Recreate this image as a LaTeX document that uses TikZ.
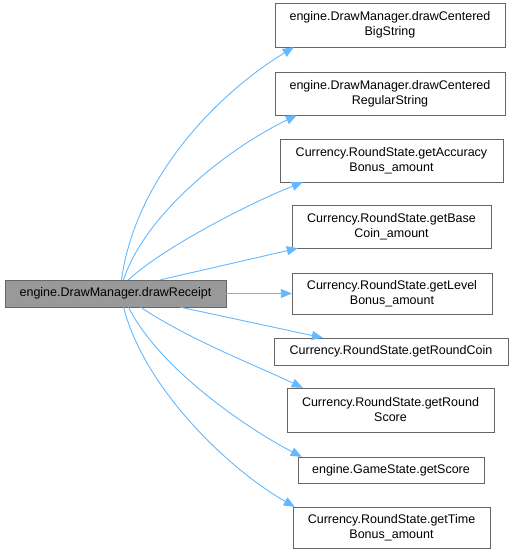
\documentclass[tikz,border=0pt]{standalone}
\usepackage{fontspec}
\setmainfont{Liberation Sans}
\usetikzlibrary{arrows.meta}
\definecolor{edgeblue}{HTML}{63B8FF}
\definecolor{boxline}{HTML}{666666}
\definecolor{srcfill}{HTML}{999999}
\tikzset{
	fn/.style={draw=boxline, fill=white, align=center, inner sep=0pt, font=\fontsize{12.5}{15}\selectfont},
	caller/.style={fn, fill=srcfill},
	call/.style={draw=edgeblue, line width=0.9pt, -{Triangle[length=11pt,width=9pt]}},
}
\begin{document}
\begin{tikzpicture}[x=1pt, y=-1pt]
				\useasboundingbox (0,0) rectangle (513,555);
				\node[caller, minimum width=221, minimum height=27] (src) at (115.5,293.5) {engine.DrawManager.drawReceipt};
				\node[fn, minimum width=230, minimum height=44] (big) at (390,25) {engine.DrawManager.drawCentered\\BigString};
				\node[fn, minimum width=230, minimum height=43] (reg) at (390,93.5) {engine.DrawManager.drawCentered\\RegularString};
				\node[fn, minimum width=223, minimum height=43] (acc) at (391.5,160.5) {Currency.RoundState.getAccuracy\\Bonus\_amount};
				\node[fn, minimum width=199, minimum height=43] (base) at (391.5,226.5) {Currency.RoundState.getBase\\Coin\_amount};
				\node[fn, minimum width=200, minimum height=41] (lvl) at (392,293.5) {Currency.RoundState.getLevel\\Bonus\_amount};
				\node[fn, minimum width=234, minimum height=27] (coin) at (391,351.5) {Currency.RoundState.getRoundCoin};
				\node[fn, minimum width=207, minimum height=44] (score) at (390.5,410) {Currency.RoundState.getRound\\Score};
				\node[fn, minimum width=186, minimum height=26] (gs) at (391,470) {engine.GameState.getScore};
				\node[fn, minimum width=197, minimum height=41] (time) at (391.5,527.5) {Currency.RoundState.getTime\\Bonus\_amount};
				% calls above the caller
				\draw[call] ([xshift=6]src.north) .. controls (135,180) and (215,95) .. ([xshift=19]big.south west);
				\draw[call] ([xshift=8]src.north) .. controls (145,215) and (225,150) .. ([xshift=22]reg.south west);
				\draw[call] ([xshift=13]src.north) .. controls (160,250) and (245,205) .. ([xshift=23]acc.south west);
				\draw[call] ([xshift=45]src.north) -- ([xshift=6]base.south west);
				\draw[call] (src.east) -- (lvl.west);
				% calls below the caller
				\draw[call] ([xshift=65]src.south) -- ([xshift=49]coin.north west);
				\draw[call] ([xshift=25]src.south) .. controls (190,340) and (255,365) .. ([xshift=16]score.north west);
				\draw[call] ([xshift=13]src.south) .. controls (160,370) and (250,430) .. ([xshift=4]gs.north west);
				\draw[call] ([xshift=8]src.south) .. controls (145,390) and (230,470) .. ([xshift=2]time.north west);
			\end{tikzpicture}
\end{document}
